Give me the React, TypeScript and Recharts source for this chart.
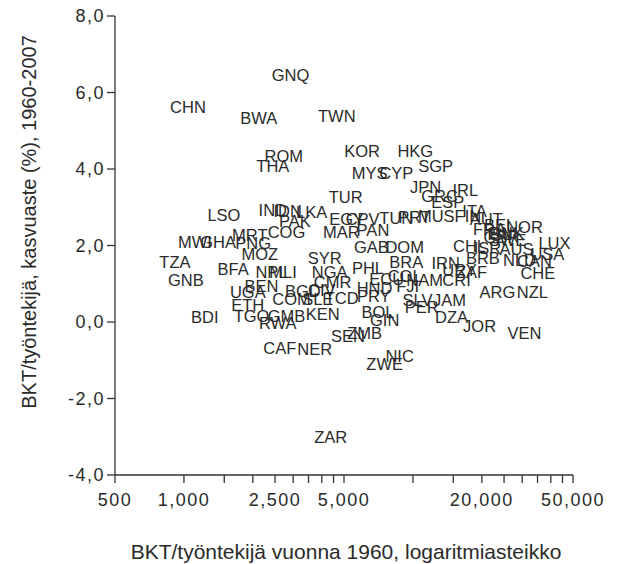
import React from 'react';
import { ScatterChart, Scatter, XAxis, YAxis, Label } from 'recharts';

// country codes, GDP per worker in 1960 and growth rate 1960-2007 (%)
const countryCodes = [
  'GNQ', 'CHN', 'BWA', 'TWN', 'ROM', 'THA', 'KOR', 'HKG', 'SGP', 'MYS',
  'CYP', 'JPN', 'IRL', 'GRC', 'ESP', 'TUR', 'LSO', 'IND', 'IDN', 'LKA',
  'PAK', 'COG', 'MRT', 'MWI', 'GHA', 'PNG', 'MOZ', 'TZA', 'GNB', 'BFA',
  'NPL', 'MLI', 'SYR', 'NGA', 'CMR', 'BEN', 'UGA', 'BGD', 'CIV', 'COM',
  'SLE', 'TCD', 'ETH', 'TGO', 'GMB', 'KEN', 'RWA', 'BDI', 'CAF', 'NER',
  'SEN', 'ZMB', 'ZAR', 'GAB', 'DOM', 'BRA', 'IRN', 'URY', 'ZAF', 'PHL',
  'ECU', 'COL', 'NAM', 'CRI', 'HND', 'FJI', 'PRY', 'SLV', 'JAM', 'PER',
  'BOL', 'GIN', 'DZA', 'JOR', 'NIC', 'ZWE', 'VEN', 'ARG', 'NZL', 'CHE',
  'USA', 'LUX', 'CAN', 'NLD', 'AUS', 'BRB', 'CHL', 'ISR', 'NOR', 'ITA',
  'FIN', 'AUT', 'BEL', 'FRA', 'DNK', 'SWE', 'GBR', 'ISL', 'TUN', 'PRT',
  'MUS', 'EGY', 'CPV', 'MAR', 'PAN',
];

const gdpPerWorker1960 = [
  2920, 1041, 2123, 4650, 2730, 2444, 6000, 10240, 12560, 6470,
  8460, 11360, 16920, 13070, 14210, 5086, 1495, 2444, 2840, 3610,
  3048, 2805, 1940, 1117, 1411, 2005, 2144, 913, 1020, 1640,
  2411, 2710, 4120, 4330, 4460, 2180, 1900, 3305, 4000, 2950,
  3840, 4885, 1900, 1974, 2805, 4035, 2570, 1234, 2622, 3725,
  5205, 6152, 4374, 6585, 9200, 9356, 13890, 15980, 18030, 6363,
  7680, 9200, 11240, 15500, 6800, 9480, 6740, 10480, 14450, 10910,
  7036, 7525, 14740, 19550, 8750, 7525, 30700, 23400, 33260, 35100,
  38660, 41500, 33940, 29200, 28320, 20200, 17660, 21160, 30700, 18580,
  17370, 20900, 23880, 21600, 25620, 25880, 24360, 23900, 8460, 10170,
  12640, 5137, 6030, 4870, 6690,
];

const growthRate = [
  6.46, 5.62, 5.33, 5.39, 4.34, 4.08, 4.47, 4.47, 4.08, 3.90,
  3.90, 3.53, 3.45, 3.29, 3.14, 3.27, 2.80, 2.93, 2.90, 2.88,
  2.64, 2.35, 2.27, 2.09, 2.09, 2.07, 1.78, 1.57, 1.10, 1.39,
  1.31, 1.31, 1.67, 1.31, 1.05, 0.94, 0.78, 0.81, 0.84, 0.60,
  0.60, 0.63, 0.44, 0.16, 0.16, 0.21, -0.03, 0.13, -0.68, -0.71,
  -0.37, -0.29, -3.01, 1.96, 1.96, 1.57, 1.54, 1.36, 1.31, 1.41,
  1.12, 1.20, 1.10, 1.10, 0.89, 0.94, 0.68, 0.58, 0.58, 0.39,
  0.26, 0.05, 0.13, -0.10, -0.89, -1.10, -0.29, 0.78, 0.78, 1.28,
  1.78, 2.07, 1.59, 1.62, 1.91, 1.67, 1.99, 1.93, 2.48, 2.90,
  2.77, 2.69, 2.54, 2.43, 2.33, 2.14, 2.22, 2.30, 2.72, 2.75,
  2.77, 2.69, 2.69, 2.35, 2.41,
];

const xTicks = [500, 1000, 1500, 2000, 2500, 3000, 3500, 4000, 4500, 5000,
  10000, 15000, 20000, 25000, 30000, 35000, 40000, 45000, 50000];
const xTickLabels = [500, 1000, 2500, 5000, 20000, 50000];
const yTicks = [-4, -2, 0, 2, 4, 6, 8];

const data = countryCodes.map((code, i) => ({
  code,
  gdp: gdpPerWorker1960[i],
  growth: growthRate[i],
}));

const FONT = '"Liberation Sans", Arial, Helvetica, sans-serif';
const INK = '#2a2a2a';

const XTick = (props: any) => {
  const { x, y, payload } = props;
  const v = payload.value;
  if (!xTickLabels.includes(v)) return null;
  return (
    <text x={x} y={y} dy="0.71em" textAnchor="middle" fontFamily={FONT}
      fontSize={18} fill={INK} style={{ letterSpacing: '1.5px' }}>
      {v.toLocaleString('en-US')}
    </text>
  );
};

const YTick = (props: any) => {
  const { x, y, payload } = props;
  return (
    <text x={x} y={y} textAnchor="end" dominantBaseline="central" fontFamily={FONT}
      fontSize={18} fill={INK} style={{ letterSpacing: '1.5px' }}>
      {payload.value.toFixed(1).replace('.', ',')}
    </text>
  );
};

const CodeLabel = (props: any) => {
  const { cx, cy, payload } = props;
  return (
    <text x={cx} y={cy} textAnchor="middle" dominantBaseline="central"
      fontFamily={FONT} fontSize={16.5} fill={INK}>
      {payload.code}
    </text>
  );
};

export default function App() {
  return (
    <div style={{ position: 'absolute', left: 0, top: 0, background: '#fff' }}>
      <ScatterChart width={623} height={564} margin={{ top: 16, right: 50, bottom: 49, left: 55 }}>
        <XAxis
          type="number"
          dataKey="gdp"
          scale="log"
          domain={[500, 50000]}
          ticks={xTicks}
          allowDataOverflow
          interval={0}
          height={40}
          tickSize={8}
          tickMargin={10}
          stroke="#333"
          strokeWidth={1.3}
          tick={<XTick />}
        >
          <Label
            content={() => (
              <text x={346} y={551} textAnchor="middle" dominantBaseline="central"
                fontFamily={FONT} fontSize={21} fill={INK}>
                BKT/työntekijä vuonna 1960, logaritmiasteikko
              </text>
            )}
          />
        </XAxis>
        <YAxis
          type="number"
          dataKey="growth"
          domain={[-4, 8]}
          ticks={yTicks}
          interval={0}
          width={60}
          tickSize={8}
          tickMargin={2}
          stroke="#333"
          strokeWidth={1.3}
          tick={<YTick />}
        >
          <Label
            content={() => (
              <text x={29} y={222} transform="rotate(-90 29 222)" textAnchor="middle"
                dominantBaseline="central" fontFamily={FONT} fontSize={20} fill={INK}>
                BKT/työntekijä, kasvuaste (%), 1960-2007
              </text>
            )}
          />
        </YAxis>
        <Scatter data={data} shape={CodeLabel} isAnimationActive={false} />
      </ScatterChart>
    </div>
  );
}
